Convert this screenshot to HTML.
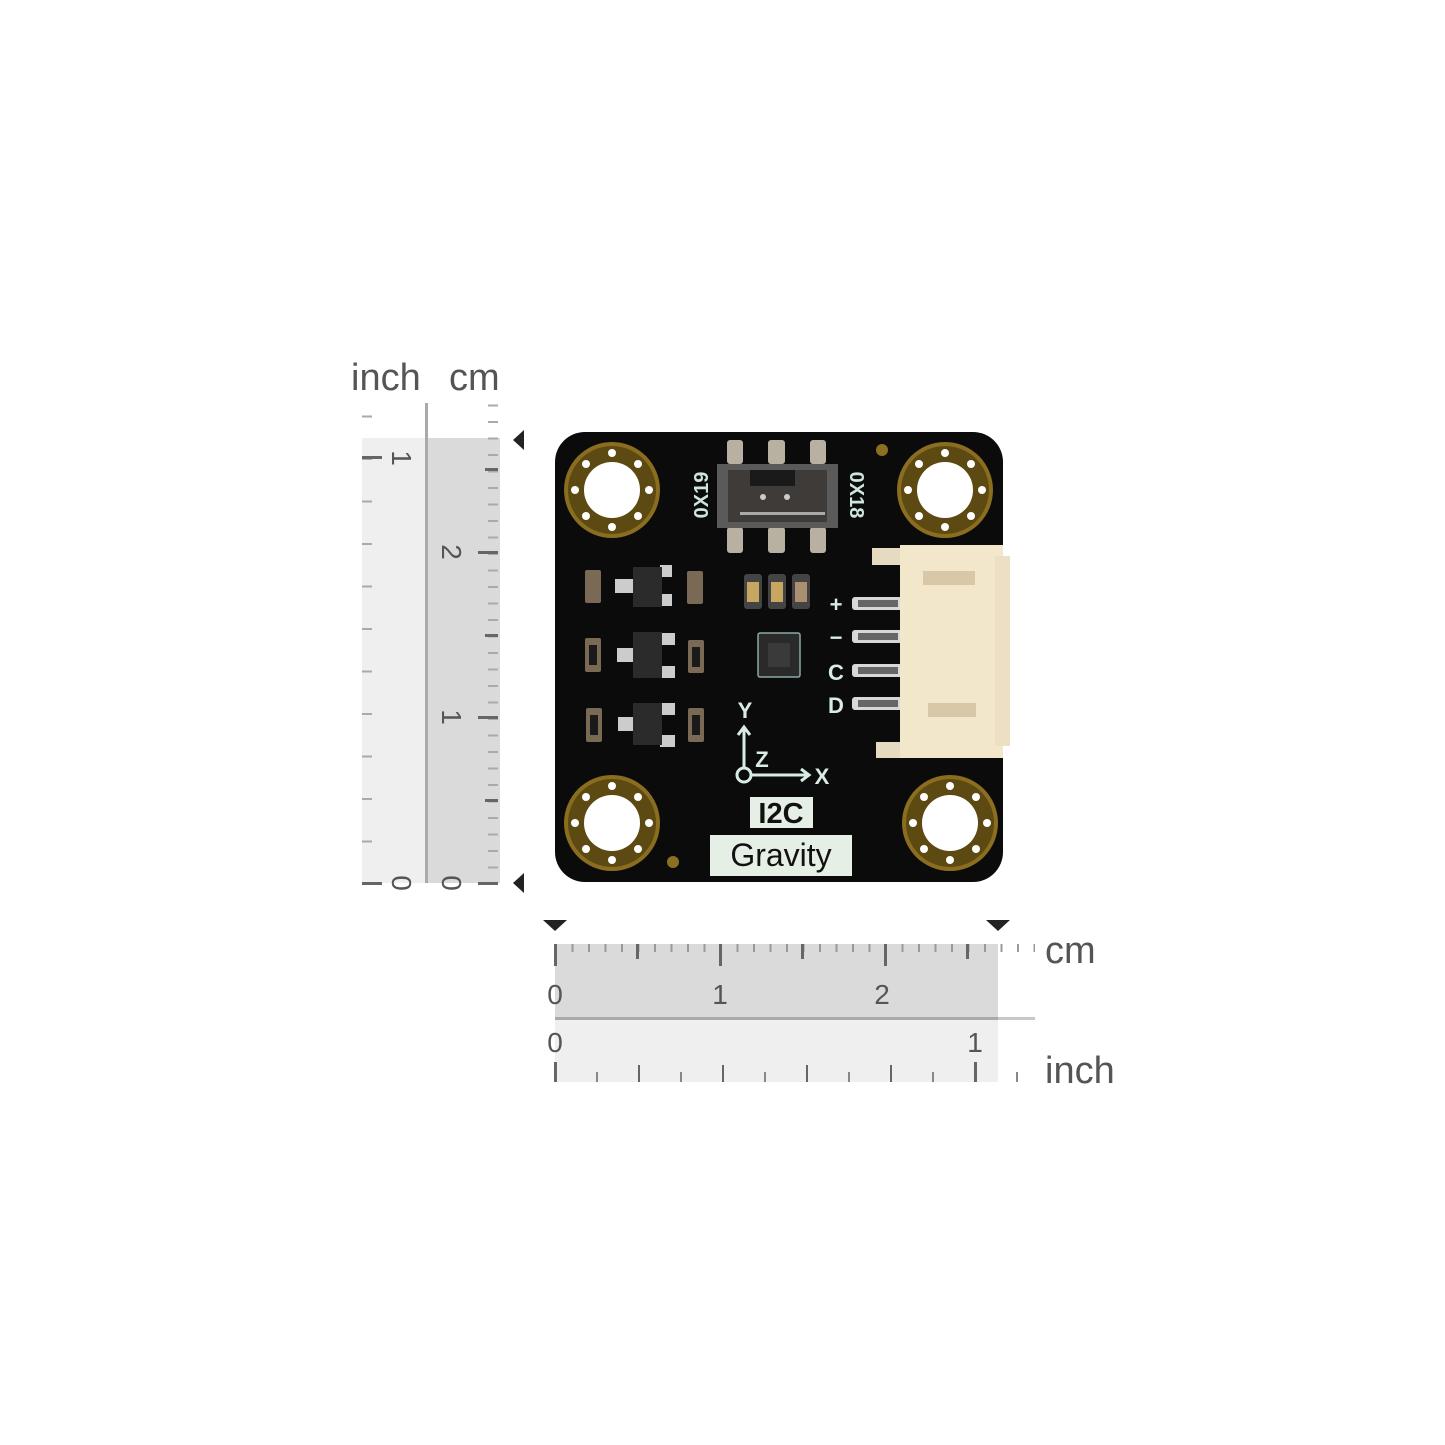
<!DOCTYPE html>
<html><head><meta charset="utf-8"><style>
html,body{margin:0;padding:0;background:#fff}
svg{display:block}
text{font-family:"Liberation Sans","DejaVu Sans",sans-serif}
</style></head><body>
<svg width="1445" height="1445" viewBox="0 0 1445 1445" xmlns="http://www.w3.org/2000/svg">
<defs>
<pattern id="vcm" x="478" y="883" width="22" height="16.5" patternUnits="userSpaceOnUse">
<rect x="10" y="0" width="10" height="2" fill="#aaa"/></pattern>
<pattern id="vin" x="362" y="883" width="20" height="42.5" patternUnits="userSpaceOnUse">
<rect x="0" y="0" width="10" height="2" fill="#aaa"/></pattern>
<pattern id="hcm" x="555" y="944" width="16.5" height="8" patternUnits="userSpaceOnUse">
<rect x="0" y="0" width="2" height="8" fill="#999"/></pattern>
<pattern id="hin" x="554" y="1072" width="42" height="10" patternUnits="userSpaceOnUse">
<rect x="0" y="0" width="2" height="10" fill="#888"/></pattern>
</defs>

<text x="351" y="390" font-size="38" fill="#555">inch</text>
<text x="449" y="390" font-size="38" fill="#555">cm</text>

<rect x="362" y="438" width="64" height="445" fill="#efefef"/>
<rect x="426" y="438" width="74" height="445" fill="#dadada"/>
<rect x="425" y="403" width="3" height="480" fill="#aaa"/>
<rect x="478" y="404" width="22" height="479" fill="url(#vcm)"/>
<rect x="362" y="415" width="20" height="468" fill="url(#vin)"/>
<g fill="#666">
<rect x="478" y="882" width="20" height="3"/><rect x="478" y="716" width="20" height="3"/><rect x="478" y="551" width="20" height="3"/>
<rect x="485" y="799" width="13" height="3"/><rect x="485" y="634" width="13" height="3"/><rect x="485" y="468" width="13" height="3"/>
<rect x="362" y="882" width="20" height="3"/><rect x="362" y="456" width="20" height="3"/>
</g>
<g font-size="28" fill="#555">
<text transform="translate(392,883) rotate(90)" text-anchor="middle">0</text>
<text transform="translate(392,458) rotate(90)" text-anchor="middle">1</text>
<text transform="translate(442,883) rotate(90)" text-anchor="middle">0</text>
<text transform="translate(442,717) rotate(90)" text-anchor="middle">1</text>
<text transform="translate(442,552) rotate(90)" text-anchor="middle">2</text>
</g>
<polygon points="513,440 524,430 524,450" fill="#222"/>
<polygon points="513,883 524,873 524,893" fill="#222"/>

<polygon points="543,920 567,920 555,931" fill="#222"/>
<polygon points="986,920 1010,920 998,931" fill="#222"/>
<rect x="555" y="944" width="443" height="74" fill="#dadada"/>
<rect x="555" y="1018" width="443" height="64" fill="#efefef"/>
<rect x="555" y="1017" width="480" height="3" fill="#c8c8c8"/>
<rect x="555" y="1017" width="443" height="3" fill="#aaa"/>
<rect x="555" y="944" width="480" height="8" fill="url(#hcm)"/>
<rect x="554" y="1072" width="470" height="10" fill="url(#hin)"/>
<g fill="#666">
<rect x="554" y="944" width="3" height="22"/><rect x="719" y="944" width="3" height="22"/><rect x="884" y="944" width="3" height="22"/>
<rect x="636" y="944" width="3" height="15"/><rect x="801" y="944" width="3" height="15"/><rect x="966" y="944" width="3" height="15"/>
<rect x="554" y="1062" width="3" height="20"/><rect x="974" y="1062" width="3" height="20"/>
<rect x="638" y="1065" width="2" height="17"/><rect x="722" y="1065" width="2" height="17"/><rect x="806" y="1065" width="2" height="17"/><rect x="890" y="1065" width="2" height="17"/>
</g>
<g font-size="28" fill="#555" text-anchor="middle">
<text x="555" y="1004">0</text><text x="720" y="1004">1</text><text x="882" y="1004">2</text>
<text x="555" y="1052">0</text><text x="975" y="1052">1</text>
</g>
<text x="1045" y="963" font-size="38" fill="#555">cm</text>
<text x="1045" y="1083" font-size="38" fill="#555">inch</text>

<rect x="555" y="432" width="448" height="450" rx="30" fill="#0b0b0b"/>

<g>
<g transform="translate(612,490)"><circle r="48" fill="#8a6d1f"/><circle r="44" fill="#5d4a12"/><circle r="28" fill="#fff"/></g>
<g transform="translate(945,490)"><circle r="48" fill="#8a6d1f"/><circle r="44" fill="#5d4a12"/><circle r="28" fill="#fff"/></g>
<g transform="translate(612,823)"><circle r="48" fill="#8a6d1f"/><circle r="44" fill="#5d4a12"/><circle r="28" fill="#fff"/></g>
<g transform="translate(950,823)"><circle r="48" fill="#8a6d1f"/><circle r="44" fill="#5d4a12"/><circle r="28" fill="#fff"/></g>
</g>
<g fill="#fff">
<circle cx="612" cy="453" r="4"/><circle cx="612" cy="527" r="4"/><circle cx="575" cy="490" r="4"/><circle cx="649" cy="490" r="4"/>
<circle cx="586" cy="464" r="4"/><circle cx="638" cy="464" r="4"/><circle cx="586" cy="516" r="4"/><circle cx="638" cy="516" r="4"/>
<circle cx="945" cy="453" r="4"/><circle cx="945" cy="527" r="4"/><circle cx="908" cy="490" r="4"/><circle cx="982" cy="490" r="4"/>
<circle cx="919" cy="464" r="4"/><circle cx="971" cy="464" r="4"/><circle cx="919" cy="516" r="4"/><circle cx="971" cy="516" r="4"/>
<circle cx="612" cy="786" r="4"/><circle cx="612" cy="860" r="4"/><circle cx="575" cy="823" r="4"/><circle cx="649" cy="823" r="4"/>
<circle cx="586" cy="797" r="4"/><circle cx="638" cy="797" r="4"/><circle cx="586" cy="849" r="4"/><circle cx="638" cy="849" r="4"/>
<circle cx="950" cy="786" r="4"/><circle cx="950" cy="860" r="4"/><circle cx="913" cy="823" r="4"/><circle cx="987" cy="823" r="4"/>
<circle cx="924" cy="797" r="4"/><circle cx="976" cy="797" r="4"/><circle cx="924" cy="849" r="4"/><circle cx="976" cy="849" r="4"/>
</g>
<circle cx="882" cy="450" r="6" fill="#8a7020"/>
<circle cx="673" cy="862" r="6" fill="#8a7020"/>

<g fill="#b8b0a0">
<rect x="727" y="440" width="16" height="24" rx="3"/><rect x="768" y="440" width="17" height="24" rx="3"/><rect x="810" y="440" width="16" height="24" rx="3"/>
<rect x="727" y="527" width="16" height="26" rx="3"/><rect x="768" y="527" width="17" height="26" rx="3"/><rect x="810" y="527" width="16" height="26" rx="3"/>
</g>
<rect x="717" y="464" width="121" height="64" fill="#5a5a5a"/>
<rect x="728" y="470" width="99" height="52" fill="#3e3b38"/>
<rect x="750" y="470" width="45" height="16" fill="#1a1a1a"/>
<rect x="740" y="512" width="85" height="3" fill="#aaa"/>
<circle cx="763" cy="497" r="3" fill="#ccc"/><circle cx="787" cy="497" r="3" fill="#ccc"/>
<g font-size="20" fill="#cde6dc" font-weight="bold">
<text transform="translate(708,495) rotate(-90)" text-anchor="middle">0X19</text>
<text transform="translate(850,495) rotate(90)" text-anchor="middle">0X18</text>
</g>

<g fill="#7a6a55">
<rect x="585" y="570" width="16" height="33" rx="2"/><rect x="687" y="571" width="16" height="33" rx="2"/>
<rect x="585" y="638" width="16" height="34" rx="2"/><rect x="688" y="640" width="16" height="33" rx="2"/>
<rect x="586" y="708" width="16" height="34" rx="2"/><rect x="688" y="708" width="16" height="34" rx="2"/>
</g>
<g fill="#1a1a1a">
<rect x="589" y="645" width="8" height="20"/><rect x="692" y="647" width="8" height="20"/>
<rect x="590" y="715" width="8" height="20"/><rect x="692" y="715" width="8" height="20"/>
</g>
<g fill="#ccc">
<rect x="615" y="579" width="18" height="14"/><rect x="660" y="565" width="12" height="12"/><rect x="660" y="594" width="12" height="12"/>
<rect x="617" y="648" width="18" height="14"/><rect x="660" y="633" width="15" height="12"/><rect x="660" y="666" width="15" height="12"/>
<rect x="618" y="717" width="18" height="14"/><rect x="660" y="703" width="15" height="12"/><rect x="660" y="735" width="15" height="12"/>
</g>
<g fill="#2b2b2b">
<rect x="633" y="567" width="29" height="40"/><rect x="633" y="632" width="29" height="46"/><rect x="633" y="703" width="29" height="42"/>
</g>
<g fill="#444"><rect x="744" y="574" width="18" height="35" rx="3"/><rect x="768" y="574" width="18" height="35" rx="3"/><rect x="792" y="574" width="18" height="35" rx="3"/></g>
<g fill="#c8a860"><rect x="747" y="582" width="12" height="20"/><rect x="771" y="582" width="12" height="20"/><rect x="795" y="582" width="12" height="20" fill="#a89070"/></g>
<rect x="758" y="633" width="42" height="44" rx="2" fill="#2a2a2a" stroke="#8aa" stroke-width="1.5"/>
<rect x="768" y="643" width="22" height="24" fill="#3a3a3a"/>

<g fill="#d8d8d8">
<rect x="852" y="597" width="52" height="13" rx="3"/><rect x="852" y="630" width="52" height="13" rx="3"/>
<rect x="852" y="664" width="52" height="13" rx="3"/><rect x="852" y="697" width="52" height="13" rx="3"/>
</g>
<g fill="#666"><rect x="858" y="600" width="40" height="7"/><rect x="858" y="633" width="40" height="7"/><rect x="858" y="667" width="40" height="7"/><rect x="858" y="700" width="40" height="7"/></g>
<rect x="872" y="548" width="32" height="17" fill="#e6dac0"/>
<rect x="876" y="742" width="30" height="16" fill="#e6dac0"/>
<rect x="900" y="545" width="103" height="213" fill="#f2e6cb"/>
<rect x="995" y="556" width="15" height="190" fill="#ecdfc3"/>
<rect x="923" y="571" width="52" height="14" fill="#d8c8a8"/>
<rect x="928" y="703" width="48" height="14" fill="#d8c8a8"/>
<g font-size="22" fill="#d8ece4" font-weight="bold" text-anchor="middle">
<text x="836" y="612">+</text><text x="836" y="645">−</text><text x="836" y="680">C</text><text x="836" y="713">D</text>
</g>

<g stroke="#d8ece4" stroke-width="3" fill="none">
<circle cx="744" cy="775" r="7"/>
<line x1="744" y1="768" x2="744" y2="728"/><polyline points="738,735 744,727 750,735"/>
<line x1="751" y1="775" x2="808" y2="775"/><polyline points="801,769 809,775 801,781"/>
</g>
<g font-size="22" fill="#d8ece4" font-weight="bold" text-anchor="middle">
<text x="745" y="718">Y</text><text x="762" y="767">Z</text><text x="822" y="784">X</text>
</g>
<rect x="750" y="797" width="63" height="31" fill="#e6efe6"/>
<text x="781" y="823" font-size="29" fill="#111" text-anchor="middle" font-weight="bold">I2C</text>
<rect x="710" y="835" width="142" height="41" fill="#e6efe6"/>
<text x="781" y="866" font-size="32" fill="#111" text-anchor="middle">Gravity</text>
</svg>
</body></html>
